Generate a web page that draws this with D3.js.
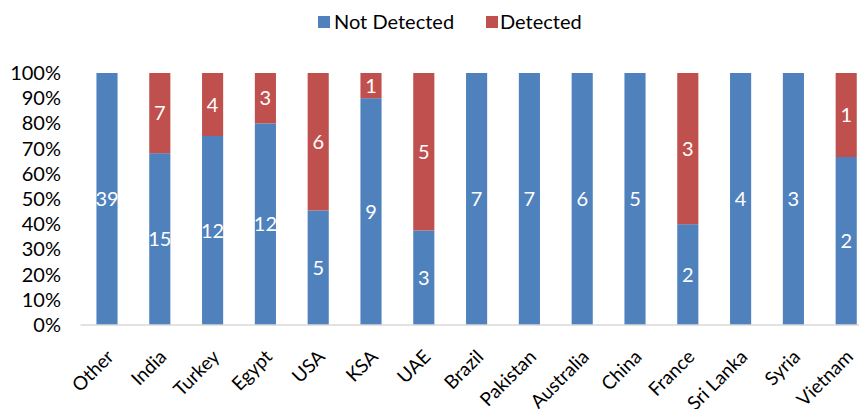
<!DOCTYPE html>
<html>
<head>
<meta charset="utf-8">
<script src="https://cdn.jsdelivr.net/npm/d3@7"></script>
<style>
  html, body { margin: 0; padding: 0; background: #fff; }
  svg { display: block; font-family: Lato, "Open Sans", sans-serif; }
</style>
</head>
<body>
<svg id="chart" width="859" height="409"></svg>
<script>
// Samples per country, split by detection outcome
const categories = ["Other", "India", "Turkey", "Egypt", "USA", "KSA", "UAE", "Brazil",
                    "Pakistan", "Australia", "China", "France", "Sri Lanka", "Syria", "Vietnam"];
const notDetected = [39, 15, 12, 12, 5, 9, 3, 7, 7, 6, 5, 2, 4, 3, 2];
const detected    = [0, 7, 4, 3, 6, 1, 5, 0, 0, 0, 0, 3, 0, 0, 1];
const seriesNames = ["Not Detected", "Detected"];
const seriesColors = ["#4f81bd", "#c0504d"];
const yTicks = [0, 0.1, 0.2, 0.3, 0.4, 0.5, 0.6, 0.7, 0.8, 0.9, 1];

const FONT = "Lato, 'Open Sans', sans-serif";
const FS = 20;

const svg = d3.select("#chart");

const rows = categories.map((c, i) => ({
  category: c, "Not Detected": notDetected[i], "Detected": detected[i]
}));

const stack = d3.stack().keys(seriesNames).offset(d3.stackOffsetExpand);
const layers = stack(rows);

const x = d3.scaleBand().domain(categories).range([80.6, 872.6]).paddingInner(0.6).paddingOuter(0.3);
const y = d3.scaleLinear().domain([0, 1]).range([325, 73]);
const color = d3.scaleOrdinal().domain(seriesNames).range(seriesColors);

// y axis labels (no axis line)
const yAxis = svg.append("g").attr("transform", "translate(61,0)")
  .call(d3.axisLeft(y).tickValues(yTicks).tickFormat(d3.format(".0%")).tickSize(0).tickPadding(0));
yAxis.select(".domain").remove();
yAxis.selectAll("text").attr("font-size", FS).attr("fill", "#000").attr("font-family", FONT);

// bars
const layerG = svg.append("g").selectAll("g").data(layers).join("g")
  .attr("fill", d => color(d.key));
layerG.selectAll("rect").data(d => d.map(s => ({ s, key: d.key })))
  .join("rect")
  .attr("x", d => x(d.s.data.category))
  .attr("width", x.bandwidth())
  .attr("y", d => y(d.s[1]))
  .attr("height", d => y(d.s[0]) - y(d.s[1]));

// value labels inside segments
const labelG = svg.append("g");
layers.forEach(layer => {
  layer.forEach(s => {
    const v = s.data[layer.key];
    if (v > 0) {
      labelG.append("text")
        .attr("x", x(s.data.category) + x.bandwidth() / 2)
        .attr("y", y((s[0] + s[1]) / 2))
        .attr("dy", "0.35em")
        .attr("text-anchor", "middle")
        .attr("font-size", FS)
        .attr("fill", "#fff")
        .text(v);
    }
  });
});

// x axis with rotated category names
const xAxis = svg.append("g").attr("transform", "translate(0,325)")
  .call(d3.axisBottom(x).tickSize(0).tickPadding(0));
xAxis.select(".domain").attr("stroke", "#d9d9d9").attr("stroke-width", 1.5)
  .attr("d", "M80.6,0H859");
xAxis.selectAll("text")
  .attr("font-size", 19).attr("fill", "#000").attr("font-family", FONT)
  .attr("text-anchor", "end")
  .attr("dy", 0).attr("y", 0)
  .attr("transform", "translate(8,33) rotate(-45)");

// legend
const legend = svg.append("g");
const legendItems = [
  { name: seriesNames[0], sx: 318, tx: 334 },
  { name: seriesNames[1], sx: 486, tx: 500 }
];
legendItems.forEach(item => {
  legend.append("rect").attr("x", item.sx).attr("y", 16).attr("width", 12).attr("height", 12)
    .attr("fill", color(item.name));
  legend.append("text").attr("x", item.tx).attr("y", 22).attr("dy", "0.35em")
    .attr("font-size", FS).attr("fill", "#000").text(item.name);
});
</script>
</body>
</html>
